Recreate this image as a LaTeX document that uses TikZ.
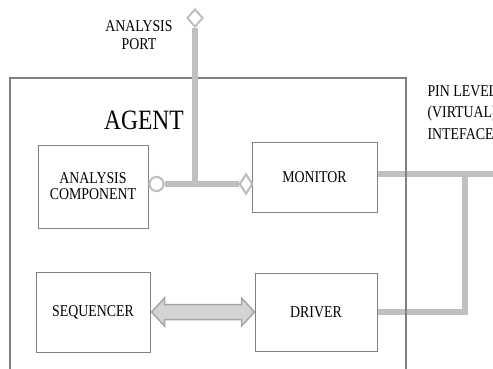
\documentclass[tikz,border=0pt]{standalone}
\usepackage{fontspec}
\setmainfont{Liberation Serif}[FakeStretch=0.84]
\usepackage{tikz}
\usetikzlibrary{positioning,shapes.geometric,calc}

\begin{document}
\begin{tikzpicture}[x=1pt, y=-1pt,
  block/.style={draw=black!50, line width=1pt, fill=white, inner sep=0pt, align=center,
    font=\fontsize{16.5}{17}\selectfont},
  wire/.style={draw=black!25, line width=6pt},
  diaport/.style={diamond, draw=black!25, line width=2pt, fill=white, inner sep=0pt, aspect=0.8},
  cirport/.style={circle, draw=black!25, line width=2pt, fill=white, inner sep=0pt, minimum size=14pt},
  lbl/.style={font=\fontsize{16.5}{18.5}\selectfont, align=center}]
\useasboundingbox (0,0) rectangle (493,369);
% pin level lines leaving the agent
\coordinate (pinR) at (493,173.5);
\coordinate (pinJ) at (465,173.5);
\node[block, minimum width=125pt, minimum height=70pt] (mon) at (314.5,177) {MONITOR};
\node[block, minimum width=122pt, minimum height=78pt] (drv) at (316,312) {DRIVER};
\draw[wire] ([yshift=3.5pt]mon.east) -- (pinR);
\draw[wire] (drv.east) -| (pinJ);
% agent frame, open at the bottom
\draw[black!50, line width=2pt] (10,370) |- (405.5,78) -- (405.5,370);
\node[font=\fontsize{28}{30}\selectfont] (agent) at (144,120) {AGENT};
\node[lbl, anchor=north west, align=left, font=\fontsize{16.5}{21.5}\selectfont] (pin) at (424,82) {PIN LEVEL\\(VIRTUAL)\\INTEFACE};
% analysis side
\node[block, minimum width=110pt, minimum height=83pt] (acomp) at (93,186.5) {ANALYSIS\\[-1pt]COMPONENT};
\node[block, minimum width=114pt, minimum height=80pt] (seq) at (93,312) {SEQUENCER};
\node[lbl] (aplabel) at (139,35) {ANALYSIS\\PORT};
\node[cirport] (aport) at (156.5,184) {};
\node[diaport, minimum width=13pt, minimum height=20pt] (mport) at (246,184) {};
\node[diaport, minimum width=16pt, minimum height=18pt] (tport) at (195,18) {};
\draw[wire] (tport.south) -- (tport.south |- aport);
\draw[wire] (aport.east) -- (mport.west);
\node[cirport] at (aport) {};
\node[diaport, minimum width=13pt, minimum height=20pt] at (mport) {};
% sequencer <-> driver
\coordinate (la) at ([xshift=1pt]seq.east);
\coordinate (ra) at (drv.west);
\draw[draw=black!35, fill=black!17, line width=1.5pt, line join=miter]
  (la) -- ++(13,-14) -- ++(0,6.5) -- ($(ra)+(-13,-7.5)$) -- ++(0,-6.5) -- (ra)
  -- ++(-13,14) -- ++(0,-6.5) -- ($(la)+(13,7.5)$) -- ++(0,6.5) -- cycle;
\end{tikzpicture}
\end{document}
